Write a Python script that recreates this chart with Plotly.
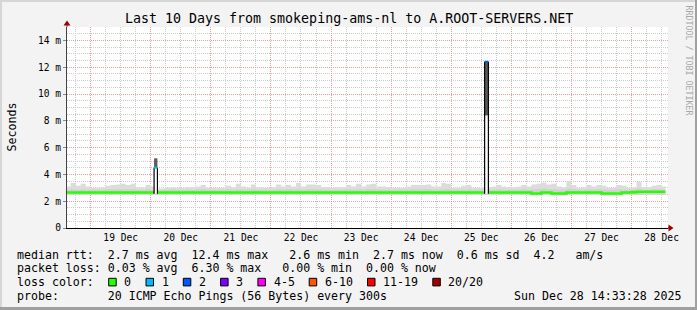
import plotly.graph_objects as go
import pandas as pd

# ---------------- data ----------------
TITLE = "Last 10 Days from smokeping-ams-nl to A.ROOT-SERVERS.NET"
range_start = "2025-12-18 14:33:28"
range_end = "2025-12-28 14:33:28"
data_start = "2025-12-18 14:00"
data_end = "2025-12-28 13:30"
day_tick0 = "2025-12-19"

y_tick_vals = [0, 2, 4, 6, 8, 10, 12, 14]
y_tick_text = ["0", "2 m", "4 m", "6 m", "8 m", "10 m", "12 m", "14 m"]

# upper edge of the smoke (ms), 2-hour steps
smoke_hi = [
    3.10, 3.35, 3.15, 3.30, 3.10, 3.00, 3.00, 3.05, 3.15, 3.20,
    3.25, 3.30, 3.20, 3.30, 3.05, 3.00, 3.20, 3.10, 2.95, 2.95,
    3.00, 3.05, 3.00, 3.00, 3.05, 3.05, 3.10, 3.20, 3.00, 3.00,
    3.00, 3.00, 3.15, 3.05, 3.30, 3.10, 3.00, 3.25, 3.05, 3.00,
    3.00, 3.05, 3.25, 3.10, 3.20, 3.10, 3.35, 3.10, 3.25, 3.25,
    3.20, 3.05, 3.05, 3.00, 3.05, 3.05, 3.20, 3.10, 3.30, 3.10,
    3.25, 3.30, 3.10, 3.10, 3.05, 3.00, 3.00, 3.00, 3.10, 3.20,
    3.20, 3.20, 3.25, 3.10, 3.10, 3.35, 3.30, 3.00, 3.00, 3.15,
    3.20, 3.00, 3.00, 3.00, 3.05, 3.10, 3.20, 3.10, 3.05, 3.05,
    3.10, 3.20, 3.10, 3.25, 3.30, 3.40, 3.25, 3.30, 3.10, 3.05,
    3.50, 3.20, 3.00, 3.05, 3.20, 3.10, 3.20, 3.15, 3.00, 3.00,
    3.20, 3.15, 3.00, 3.00, 3.45, 3.05, 3.05, 3.15, 3.20, 3.10,
]
# darker inner smoke
smoke_mid = [
    2.85, 2.90, 2.85, 2.90, 2.85, 2.85, 2.85, 2.85, 2.90, 2.90,
    2.90, 2.90, 2.90, 2.90, 2.85, 2.85, 2.90, 2.85, 2.85, 2.85,
    2.85, 2.90, 2.85, 2.85, 2.85, 2.85, 2.90, 2.90, 2.85, 2.85,
    2.85, 2.85, 2.90, 2.85, 2.90, 2.85, 2.85, 2.90, 2.85, 2.85,
    2.85, 2.85, 2.90, 2.85, 2.90, 2.85, 2.90, 2.85, 2.90, 2.90,
    2.90, 2.85, 2.85, 2.85, 2.85, 2.85, 2.90, 2.85, 2.90, 2.85,
    2.90, 2.90, 2.85, 2.85, 2.85, 2.85, 2.85, 2.85, 2.85, 2.90,
    2.90, 2.90, 2.90, 2.85, 2.85, 2.90, 2.90, 2.85, 2.85, 2.85,
    2.90, 2.85, 2.85, 2.85, 2.85, 2.85, 2.90, 2.85, 2.85, 2.85,
    2.85, 2.90, 2.85, 2.90, 2.90, 2.95, 2.90, 2.90, 2.85, 2.85,
    2.95, 2.90, 2.85, 2.85, 2.90, 2.85, 2.90, 2.85, 2.85, 2.85,
    2.90, 2.85, 2.85, 2.85, 2.95, 2.85, 2.85, 2.90, 2.90, 2.85,
]
# lower edge of the smoke
smoke_lo = [
    2.50, 2.50, 2.50, 2.50, 2.50, 2.50, 2.50, 2.50, 2.50, 2.50,
    2.50, 2.50, 2.50, 2.50, 2.50, 2.50, 2.50, 2.50, 2.50, 2.50,
    2.50, 2.50, 2.50, 2.50, 2.50, 2.50, 2.50, 2.50, 2.50, 2.50,
    2.50, 2.50, 2.50, 2.50, 2.50, 2.50, 2.50, 2.50, 2.50, 2.50,
    2.50, 2.50, 2.50, 2.50, 2.50, 2.50, 2.50, 2.50, 2.50, 2.50,
    2.50, 2.50, 2.50, 2.50, 2.50, 2.50, 2.50, 2.50, 2.50, 2.50,
    2.50, 2.50, 2.50, 2.50, 2.50, 2.50, 2.50, 2.50, 2.50, 2.50,
    2.50, 2.50, 2.50, 2.50, 2.50, 2.50, 2.50, 2.50, 2.50, 2.50,
    2.50, 2.50, 2.50, 2.50, 2.50, 2.50, 2.50, 2.50, 2.50, 2.50,
    2.50, 2.50, 2.50, 2.45, 2.45, 2.50, 2.50, 2.45, 2.45, 2.45,
    2.50, 2.50, 2.50, 2.50, 2.50, 2.50, 2.50, 2.45, 2.45, 2.45,
    2.45, 2.50, 2.50, 2.50, 2.50, 2.50, 2.50, 2.50, 2.50, 2.50,
]
# median rtt (ms), loss 0 (green)
median_rtt = [
    2.65, 2.65, 2.65, 2.65, 2.65, 2.65, 2.65, 2.65, 2.65, 2.65,
    2.65, 2.65, 2.65, 2.65, 2.65, 2.65, 2.65, 2.65, 2.65, 2.65,
    2.65, 2.65, 2.65, 2.65, 2.65, 2.65, 2.65, 2.65, 2.65, 2.65,
    2.65, 2.65, 2.65, 2.65, 2.65, 2.65, 2.65, 2.65, 2.65, 2.65,
    2.65, 2.65, 2.65, 2.65, 2.65, 2.65, 2.65, 2.65, 2.65, 2.65,
    2.65, 2.65, 2.65, 2.65, 2.65, 2.65, 2.65, 2.65, 2.65, 2.65,
    2.65, 2.65, 2.65, 2.65, 2.65, 2.65, 2.65, 2.65, 2.65, 2.65,
    2.65, 2.65, 2.65, 2.65, 2.65, 2.65, 2.65, 2.65, 2.65, 2.65,
    2.65, 2.65, 2.65, 2.65, 2.65, 2.65, 2.65, 2.65, 2.65, 2.65,
    2.65, 2.65, 2.65, 2.58, 2.58, 2.65, 2.65, 2.58, 2.58, 2.58,
    2.65, 2.65, 2.65, 2.65, 2.65, 2.65, 2.65, 2.58, 2.58, 2.58,
    2.58, 2.65, 2.65, 2.68, 2.70, 2.70, 2.70, 2.70, 2.70, 2.70,
]

# two short spikes
spike_start = ["2025-12-20 01:20", "2025-12-25 13:20"]
spike_end = ["2025-12-20 02:40", "2025-12-25 14:50"]
spike_base = [2.55, 2.55]
spike_median = [4.5, 12.4]
spike_smoke_lo = [4.5, 8.4]
spike_smoke_hi = [5.2, 12.45]
spike_loss_color = ["#00b8ff", "#0059ff"]

# legend
legend_rows = [
    "median rtt:  2.7 ms avg  12.4 ms max   2.6 ms min  2.7 ms now  0.6 ms sd  4.2   am/s",
    "packet loss: 0.03 % avg  6.30 % max   0.00 % min  0.00 % now",
]
loss_title = "loss color:"
loss_labels = ["0", "1", "2", "3", "4-5", "6-10", "11-19", "20/20"]
loss_colors = ["#26ff00", "#00b8ff", "#0059ff", "#7e00ff", "#ff00ff", "#ff5500", "#ff0000", "#a10000"]
probe_text = "probe:       20 ICMP Echo Pings (56 Bytes) every 300s"
stamp_text = "Sun Dec 28 14:33:28 2025"
y_title = "Seconds"
watermark = "RRDTOOL / TOBI OETIKER"

# ---------------- layout geometry ----------------
W_IMG, H_IMG = 697, 310
L, T, R, B = 67, 27, 29, 82
PW = W_IMG - L - R
PH = H_IMG - T - B
MONO = "DejaVu Sans Mono"
CW = 7.0  # legend char width


def px(x):
    return (x - L) / PW


def py(y):
    return (T + PH - y) / PH


def nb(s):
    return s.replace(" ", "\u00a0")


times = list(pd.date_range(data_start, periods=len(smoke_hi), freq="2h")) + [pd.Timestamp(data_end)]


def ext(v):
    return list(v) + [v[-1]]


fig = go.Figure()
fig.add_trace(go.Scatter(x=times, y=ext(smoke_lo), mode="lines", line=dict(width=0, shape="hv"),
                         hoverinfo="skip", showlegend=False))
fig.add_trace(go.Scatter(x=times, y=ext(smoke_hi), mode="lines", line=dict(width=0, shape="hv"),
                         fill="tonexty", fillcolor="#dcdcdc", hoverinfo="skip", showlegend=False))
fig.add_trace(go.Scatter(x=times, y=ext(smoke_lo), mode="lines", line=dict(width=0, shape="hv"),
                         hoverinfo="skip", showlegend=False))
fig.add_trace(go.Scatter(x=times, y=ext(smoke_mid), mode="lines", line=dict(width=0, shape="hv"),
                         fill="tonexty", fillcolor="#d0d0d0", hoverinfo="skip", showlegend=False))
fig.add_trace(go.Scatter(x=times, y=ext(median_rtt), mode="lines", line=dict(width=2.6, shape="hv", color="#26ff00"),
                         hoverinfo="skip", showlegend=False))

for s0, s1, b, m, lo, hi, c in zip(spike_start, spike_end, spike_base, spike_median,
                                   spike_smoke_lo, spike_smoke_hi, spike_loss_color):
    fig.add_trace(go.Scatter(x=[s0, s0, s1, s1, s0], y=[b, m, m, b, b], mode="lines", fill="toself",
                             fillcolor="#ffffff", line=dict(width=0), hoverinfo="skip", showlegend=False))
    fig.add_trace(go.Scatter(x=[s0, s0, s1, s1, s0], y=[lo, hi, hi, lo, lo], mode="lines", fill="toself",
                             fillcolor="#5c5c5c", line=dict(width=0), hoverinfo="skip", showlegend=False))
    fig.add_trace(go.Scatter(x=[s0, s0, None, s1, s1], y=[b, m, None, m, b], mode="lines",
                             line=dict(width=1.2, color="#000000"), hoverinfo="skip", showlegend=False))
    fig.add_trace(go.Scatter(x=[s0, s1], y=[m, m], mode="lines",
                             line=dict(width=2, color=c), hoverinfo="skip", showlegend=False))

MAJ = "#e4a2a2"
MIN = "#cccccc"
fig.update_layout(
    width=W_IMG, height=H_IMG,
    margin=dict(l=L, r=R, t=T, b=B, pad=0),
    paper_bgcolor="#f3f3f3", plot_bgcolor="#ffffff",
    showlegend=False,
    xaxis=dict(
        type="date", range=[range_start, range_end],
        tick0=day_tick0, dtick=86400000, tickformat="%d %b", ticklabelmode="period",
        showgrid=True, gridcolor=MAJ, griddash="1px,1px", gridwidth=1,
        minor=dict(dtick=21600000, tick0=day_tick0, showgrid=True, gridcolor=MIN, griddash="1px,1px", gridwidth=1),
        showline=True, linecolor="#000000", linewidth=1,
        ticks="", tickfont=dict(family=MONO, size=9.6, color="#000000"),
        zeroline=False, fixedrange=True,
    ),
    yaxis=dict(
        range=[0, 15], tickvals=y_tick_vals, ticktext=y_tick_text,
        showgrid=True, gridcolor=MAJ, griddash="1px,1px", gridwidth=1,
        minor=dict(dtick=0.5, tick0=0, showgrid=True, gridcolor=MIN, griddash="1px,1px", gridwidth=1),
        showline=True, linecolor="#444444", linewidth=1,
        ticks="outside", ticklen=3, tickcolor="#888888",
        tickfont=dict(family=MONO, size=9.6, color="#000000"),
        zeroline=False, fixedrange=True,
    ),
)

ann = []
ann.append(dict(text=nb(TITLE), x=px(W_IMG / 2), y=py(19), xanchor="center", yanchor="middle",
                font=dict(family=MONO, size=13.3, color="#000000")))
ann.append(dict(text=y_title, x=px(11), y=py(127.5), xanchor="center", yanchor="middle", textangle=-90,
                font=dict(family=MONO, size=11.6, color="#000000")))
ann.append(dict(text=nb(watermark), x=px(688.5), y=py(60), xanchor="center", yanchor="middle", textangle=90,
                font=dict(family=MONO, size=8.3, color="#a8a8a8")))
row_y = [254.5, 268.3, 282.1, 295.9]
for i, row in enumerate(legend_rows):
    ann.append(dict(text=nb(row), x=px(15), y=py(row_y[i]), xanchor="left", yanchor="middle",
                    font=dict(family=MONO, size=11.6, color="#000000")))
ann.append(dict(text=nb(loss_title), x=px(15), y=py(row_y[2]), xanchor="left", yanchor="middle",
                font=dict(family=MONO, size=11.6, color="#000000")))
ann.append(dict(text=nb(probe_text), x=px(15), y=py(row_y[3]), xanchor="left", yanchor="middle",
                font=dict(family=MONO, size=11.6, color="#000000")))
ann.append(dict(text=nb(stamp_text), x=px(16 + 71 * CW - 1), y=py(row_y[3]), xanchor="left", yanchor="middle",
                font=dict(family=MONO, size=11.6, color="#000000")))

shapes = []
bx = 108.7
for lab, col in zip(loss_labels, loss_colors):
    shapes.append(dict(type="rect", xref="paper", yref="paper",
                       x0=px(bx), x1=px(bx + 7.5), y0=py(row_y[2] - 3.8), y1=py(row_y[2] + 3.8),
                       fillcolor=col, line=dict(color="#000000", width=1), layer="above"))
    tx = bx + 14.6
    ann.append(dict(text=nb(lab), x=px(tx - 1), y=py(row_y[2]), xanchor="left", yanchor="middle",
                    font=dict(family=MONO, size=11.6, color="#000000")))
    bx = tx + len(lab) * CW + 15.7

# axis extensions and arrows
shapes.append(dict(type="line", xref="paper", yref="paper", x0=0, x1=0, y0=1, y1=py(24),
                   line=dict(color="#444444", width=1)))
shapes.append(dict(type="line", xref="paper", yref="paper", x0=1, x1=px(670), y0=0, y1=0,
                   line=dict(color="#000000", width=1)))
shapes.append(dict(type="path", xref="paper", yref="paper",
                   path=f"M {px(63.5)} {py(25.5)} L {px(70.5)} {py(25.5)} L {px(67)} {py(20.5)} Z",
                   fillcolor="#a00000", line=dict(width=0)))
shapes.append(dict(type="path", xref="paper", yref="paper",
                   path=f"M {px(668.5)} {py(224.5)} L {px(668.5)} {py(231.5)} L {px(673.5)} {py(228)} Z",
                   fillcolor="#a00000", line=dict(width=0)))
# image border
shapes.append(dict(type="rect", xref="paper", yref="paper", x0=px(0), x1=px(W_IMG), y0=py(0), y1=py(2),
                   fillcolor="#d6d6d6", line=dict(width=0)))
shapes.append(dict(type="rect", xref="paper", yref="paper", x0=px(0), x1=px(2), y0=py(0), y1=py(H_IMG),
                   fillcolor="#d6d6d6", line=dict(width=0)))
shapes.append(dict(type="rect", xref="paper", yref="paper", x0=px(0), x1=px(W_IMG), y0=py(H_IMG - 3), y1=py(H_IMG),
                   fillcolor="#a0a0a0", line=dict(width=0)))
shapes.append(dict(type="rect", xref="paper", yref="paper", x0=px(W_IMG - 2), x1=px(W_IMG), y0=py(0), y1=py(H_IMG),
                   fillcolor="#a0a0a0", line=dict(width=0)))

fig.update_layout(annotations=[dict(a, xref="paper", yref="paper", showarrow=False) for a in ann], shapes=shapes)

fig.write_html("out.html", config=dict(displayModeBar=False, staticPlot=True))
